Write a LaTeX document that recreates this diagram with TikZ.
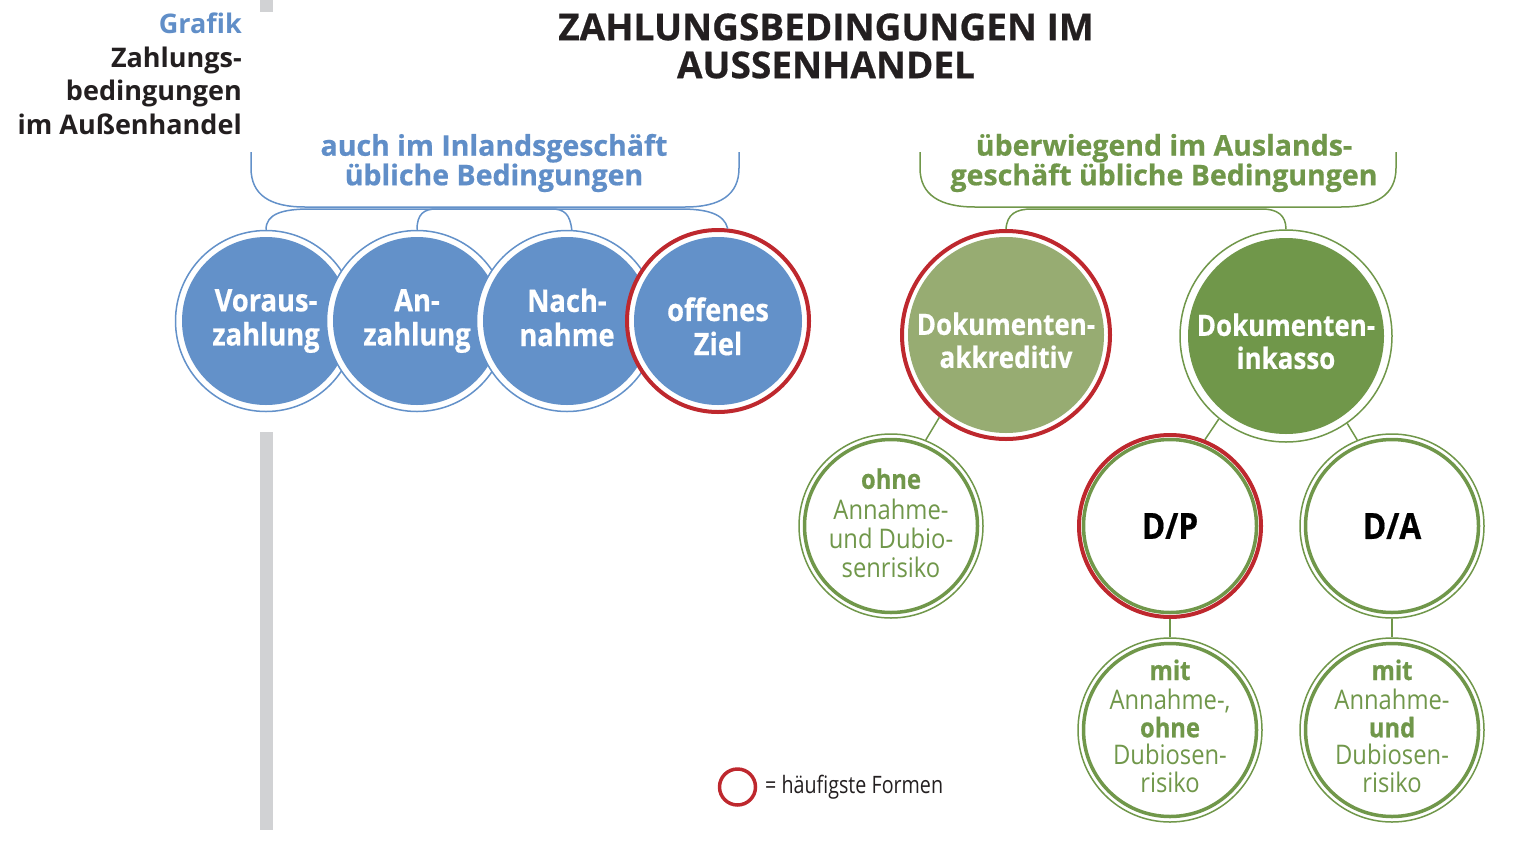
\documentclass[tikz,border=0pt]{standalone}
\usepackage{fontspec}
\setmainfont{Open Sans}[BoldFeatures={FakeBold=0.6}]
\newfontfamily\sidef{Open Sans}
\newfontfamily\condf{Open Sans}[FakeStretch=0.88, BoldFeatures={FakeBold=0.5}]
\newfontfamily\legf{Open Sans}[FakeStretch=0.82]
\definecolor{cblue}{RGB}{99,145,201}
\definecolor{cbluetext}{RGB}{96,142,200}
\definecolor{cred}{RGB}{190,40,46}
\definecolor{cgreenlight}{RGB}{151,172,114}
\definecolor{cgreen}{RGB}{112,151,74}
\definecolor{cgrey}{RGB}{209,210,212}
\definecolor{cdark}{RGB}{35,31,32}
\tikzset{
  wtxt/.style={text=white, align=center, inner sep=0pt, font=\condf\bfseries\fontsize{31}{32}\selectfont},
  wtxtg/.style={text=white, align=center, inner sep=0pt, font=\condf\bfseries\fontsize{29.5}{32}\selectfont},
  gtxt/.style={text=cgreen, align=center, inner sep=0pt, font=\condf\fontsize{27}{29}\selectfont},
  gtxtb/.style={text=cgreen, align=center, inner sep=0pt, font=\condf\fontsize{27}{27.5}\selectfont},
  bluec/.style={circle, inner sep=0pt, minimum size=181pt, draw=cblue, line width=1.5pt, fill=white,
    path picture={\fill[cblue] (path picture bounding box.center) circle[radius=84pt];}},
  redring/.style={draw=cred, line width=4pt},
  gtop/.style={circle, inner sep=0pt, minimum size=212pt, draw=cgreen, line width=1.5pt, fill=white,
    path picture={\fill[#1] (path picture bounding box.center) circle[radius=98pt];}},
  glow/.style={circle, inner sep=0pt, minimum size=184pt, draw=cgreen, line width=1.5pt, fill=white,
    path picture={\draw[cgreen, line width=3.5pt] (path picture bounding box.center) circle[radius=86.5pt];}},
  bline/.style={draw=cblue, line width=1.5pt},
  gline/.style={draw=cgreen, line width=1.5pt},
  hdr/.style={font=\bfseries\fontsize{28.5}{28}\selectfont, align=center},
}
\begin{document}
\begin{tikzpicture}[x=1pt,y=-1pt]
\useasboundingbox (0,0) rectangle (1522,846);
% grey bar
\fill[cgrey] (259.5,0) rectangle (272.5,12);
\fill[cgrey] (259.5,432) rectangle (272.5,830);
% side text
\node[font=\sidef\bfseries\fontsize{27}{33.5}\selectfont, text=cdark, align=right, anchor=east, inner sep=0pt] (side) at (242,74)
  {\textcolor{cbluetext}{Grafik}\\Zahlungs-\\bedingungen\\im Außenhandel};
% title
\node[font=\bfseries\fontsize{37}{38}\selectfont, text=cdark, align=center] (title) at (826,46)
  {ZAHLUNGSBEDINGUNGEN IM\\AUSSENHANDEL};
% headers
\node[hdr, text=cbluetext] (bh) at (494,163) {auch im Inlandsgeschäft\\übliche Bedingungen};
\node[hdr, text=cgreen] (gh) at (1164,163) {überwiegend im Auslands-\\geschäft übliche Bedingungen};
% braces
\draw[bline] (251,152) -- (251,168) .. controls (251,195) and (270,207) .. (305,207) -- (685,207) .. controls (720,207) and (739,195) .. (739,168) -- (739,152);
\draw[gline] (920,152) -- (920,168) .. controls (920,195) and (940,207) .. (975,207) -- (1341,207) .. controls (1376,207) and (1396,195) .. (1396,168) -- (1396,152);
% blue circles
\node[bluec, label={[wtxt, yshift=-1pt]center:{\strut Voraus-\\zahlung\strut}}] (v) at (266,321) {};
\node[bluec, label={[wtxt, yshift=-1pt]center:{\strut An-\\zahlung\strut}}] (a) at (417,321) {};
\node[bluec, label={[wtxt, yshift=-1pt]center:{\strut Nach-\\nahme\strut}}] (n) at (567,321) {};
\node[bluec, redring, minimum size=182pt, label={[wtxt, yshift=-10pt]center:{\strut offenes\\Ziel\strut}}] (z) at (718,321) {};
% blue connectors
\draw[bline] (v.north) .. controls (266,214) and (282,209) .. (310,209) -- (680,209) .. controls (708,209) and (724,214) .. (z.84);
\draw[bline] (a.north) .. controls (417,214) and (424,209) .. (436,209) -- (552,209) .. controls (564,209) and (570,214) .. (n.87);
% green top circles
\node[gtop=cgreenlight, redring, minimum size=208pt, label={[wtxtg, yshift=-10pt]center:{\strut Dokumenten-\\akkreditiv\strut}}] (da) at (1006,335) {};
\node[gtop=cgreen, label={[wtxtg, yshift=-10pt]center:{\strut Dokumenten-\\inkasso\strut}}] (di) at (1286,336) {};
\draw[gline] (da.north) .. controls (1007,214) and (1016,209) .. (1032,209) -- (1262,209) .. controls (1277,209) and (1286,215) .. (di.north);
% lower circles
\node[glow, label={[gtxt, yshift=-1pt]center:{\strut\bfseries ohne\\Annahme-\\und Dubio-\\senrisiko\strut}}] (oh) at (891,526) {};
\node[glow, redring, minimum size=182pt, text=black, font=\condf\bfseries\fontsize{36}{40}\selectfont] (dp) at (1170,526) {D/P};
\node[glow, text=black, font=\condf\bfseries\fontsize{36}{40}\selectfont] (dA) at (1392,526) {D/A};
\node[glow, label={[gtxtb]center:{\strut\bfseries mit\\Annahme-,\\\bfseries ohne\\Dubiosen-\\risiko\strut}}] (m1) at (1170,730) {};
\node[glow, label={[gtxtb]center:{\strut\bfseries mit\\Annahme-\\\bfseries und\\Dubiosen-\\risiko\strut}}] (m2) at (1392,730) {};
% lower connectors
\draw[gline] (oh.68) -- (da.231);
\draw[gline] (dp.68) -- (di.231);
\draw[gline] (dA.112) -- (di.305);
\draw[gline] (dp.south) -- (m1.north);
\draw[gline] (dA.south) -- (m2.north);
% legend
\node[circle, draw=cred, line width=3.5pt, minimum size=36pt, inner sep=0pt] (leg) at (737.5,787) {};
\node[anchor=west, inner sep=0pt, text=cdark, font=\legf\fontsize{24}{26}\selectfont] (legt) at (765,787) {= häufigste Formen};
\end{tikzpicture}
\end{document}
